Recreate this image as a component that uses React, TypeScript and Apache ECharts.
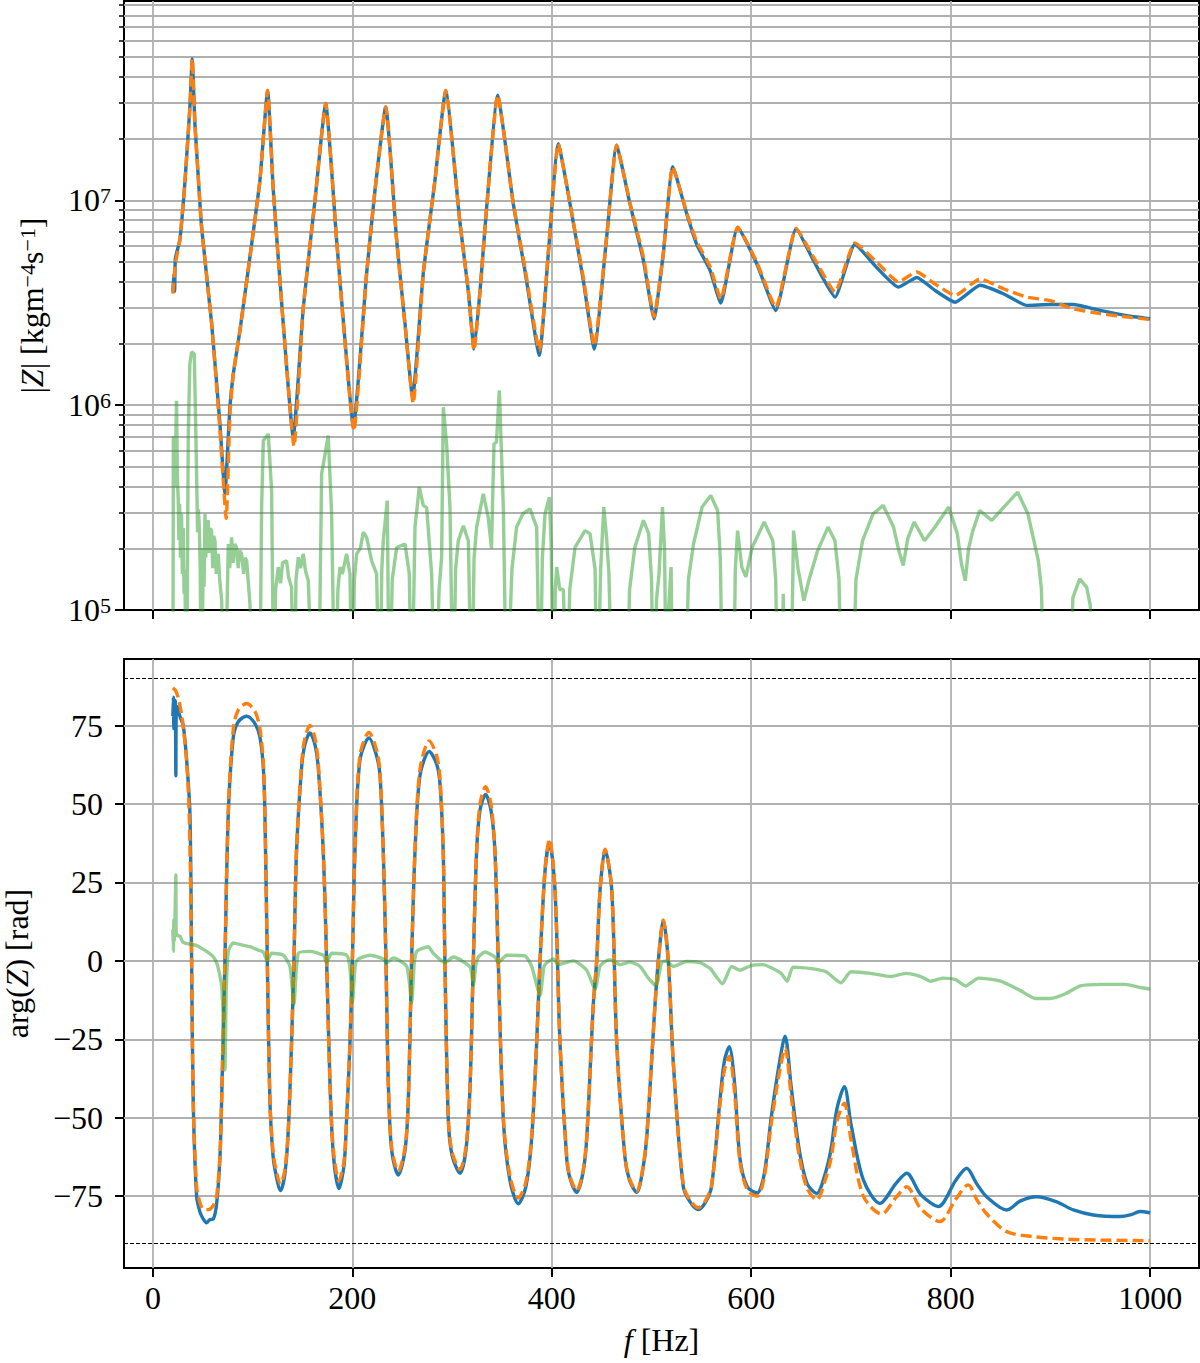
import React, { useEffect, useRef } from 'react';
import * as echarts from 'echarts';

const FONT = '"Liberation Serif", "DejaVu Serif", serif';

// ---- axes ----
const xMin = -29;
const xMax = 1049;
const xTicks = [0, 200, 400, 600, 800, 1000];
const magMin = 1e5;
const magMax = 9.4e7;
const magLabelTicks = [1e5, 1e6, 1e7];
const magGridTicks = [
  2e5, 3e5, 4e5, 5e5, 6e5, 7e5, 8e5, 9e5,
  1e6, 2e6, 3e6, 4e6, 5e6, 6e6, 7e6, 8e6, 9e6,
  1e7, 2e7, 3e7, 4e7, 5e7, 6e7, 7e7, 8e7, 9e7,
];
const phaseMin = -97.9;
const phaseMax = 96.2;
const phaseTicks = [-75, -50, -25, 0, 25, 50, 75];
const phaseRefLines = [90, -90];

// ---- |Z| measured (blue) ----
const magBlueF = [20, 21, 21.8, 22.5, 27, 32, 37.1, 39.4, 42.1, 43.8, 48.8, 58.9, 67.2, 72.2, 77.2, 80.6, 87.3, 97.3, 107.3, 115, 120.7, 130.7, 140.7, 150.8, 162.5, 173.2, 184.2, 192.6, 201, 214.3, 222.7, 233.4, 244.4, 252.8, 260.4, 271.1, 282.8, 293.6, 308, 316.3, 322, 328, 334.7, 345.7, 361.4, 373, 387.5, 396.5, 406.5, 418.3, 431.6, 442.6, 455, 465, 478.4, 491.8, 502.5, 511.8, 521.3, 535.3, 545.3, 558.7, 569.4, 586.5, 605.5, 624.6, 645, 662.3, 684, 704, 725.8, 747.6, 766, 784.4, 804.4, 829.5, 852.9, 876.3, 899.7, 923, 949.8, 975, 1000];
const magBlueV = [3.6e6, 4.4e6, 3.6e6, 5.2e6, 6.4e6, 1.21e7, 2.86e7, 4.9e7, 2.37e7, 1.75e7, 7.4e6, 2.5e6, 8.1e5, 3.7e5, 9.8e5, 1.42e6, 2.32e6, 5.3e6, 1.25e7, 3.44e7, 1.12e7, 2.5e6, 7.0e5, 3.0e6, 1.0e7, 2.97e7, 6.4e6, 2.07e6, 7.8e5, 4.4e6, 1.12e7, 2.86e7, 6.4e6, 2.5e6, 1.09e6, 4.4e6, 1.25e7, 3.44e7, 7.7e6, 3.6e6, 1.88e6, 3.6e6, 9.3e6, 3.26e7, 9.6e6, 4.55e6, 1.75e6, 5.5e6, 1.89e7, 9.6e6, 4.06e6, 1.88e6, 6.6e6, 1.86e7, 9.6e6, 5.1e6, 2.64e6, 5.5e6, 1.46e7, 8.6e6, 6.1e6, 4.55e6, 3.15e6, 7.4e6, 4.9e6, 2.9e6, 7.3e6, 5.1e6, 3.37e6, 6.1e6, 4.7e6, 3.77e6, 4.2e6, 3.63e6, 3.18e6, 3.85e6, 3.5e6, 3.07e6, 3.1e6, 3.1e6, 2.9e6, 2.74e6, 2.64e6];

// ---- |Z| model (orange dashed) ----
const magOrangeF = [20, 22.5, 27, 32, 37.1, 39.4, 42.1, 43.8, 48.8, 58.9, 67.2, 73.5, 77.2, 80.6, 87.3, 97.3, 107.3, 115, 120.7, 130.7, 141.5, 150.8, 162.5, 173.2, 184.2, 192.6, 201.5, 214.3, 222.7, 233.4, 244.4, 252.8, 261, 271.1, 282.8, 293.6, 308, 316.3, 322, 328, 334.7, 345.7, 361.4, 373, 387.5, 396.5, 406.5, 418.3, 431.6, 442.6, 455, 465, 478.4, 491.8, 502.5, 511.8, 521.3, 535.3, 545.3, 558.7, 569.4, 586.5, 605.5, 624.6, 645, 662.3, 684, 704, 725.8, 747.6, 766, 784.4, 804.4, 829.5, 852.9, 876.3, 899.7, 923, 949.8, 975, 1000];
const magOrangeV = [3.5e6, 4.9e6, 6.4e6, 1.21e7, 2.86e7, 4.9e7, 2.37e7, 1.75e7, 7.4e6, 2.5e6, 7.5e5, 2.8e5, 9.0e5, 1.42e6, 2.32e6, 5.3e6, 1.25e7, 3.44e7, 1.12e7, 2.5e6, 6.3e5, 3.0e6, 1.0e7, 2.97e7, 6.4e6, 2.0e6, 7.5e5, 4.4e6, 1.12e7, 2.86e7, 6.4e6, 2.45e6, 1.02e6, 4.4e6, 1.25e7, 3.44e7, 7.7e6, 3.6e6, 1.85e6, 3.6e6, 9.3e6, 3.26e7, 9.6e6, 4.7e6, 1.85e6, 5.6e6, 1.89e7, 9.6e6, 4.2e6, 1.95e6, 6.6e6, 1.86e7, 9.7e6, 5.3e6, 2.7e6, 5.5e6, 1.46e7, 8.7e6, 6.3e6, 4.75e6, 3.3e6, 7.4e6, 5.0e6, 3.0e6, 7.3e6, 5.3e6, 3.57e6, 6.2e6, 5.0e6, 4.0e6, 4.47e6, 3.9e6, 3.43e6, 4.14e6, 3.7e6, 3.37e6, 3.24e6, 2.95e6, 2.8e6, 2.7e6, 2.62e6];

// ---- |Z| difference (green) ----
const magDiffF = [20, 20.5, 22, 23.7, 24.5, 25.4, 26, 26.8, 27.6, 28.7, 29.5, 30.4, 31.2, 32, 33.8, 35.4, 37, 38.8, 41.5, 43.8, 44.8, 45.6, 46.5, 47.4, 48.8, 50.5, 51.3, 52.2, 53, 54, 55.5, 56.5, 57.5, 58.8, 60, 61, 62.2, 63.5, 65.5, 67, 68.9, 72.2, 75.6, 77, 78.9, 80.5, 82, 83.9, 85.5, 87, 88.9, 91, 92.5, 94, 97.3, 100.6, 107, 109, 110.7, 115.7, 119, 121.4, 123, 125.7, 128, 130, 134, 136, 139, 141.4, 143.5, 145.8, 148, 150.8, 153, 155.8, 160.8, 166, 169.2, 175.8, 179.2, 182.5, 185.5, 187.6, 190, 194.2, 197.6, 200, 202, 204.3, 208, 211, 214.3, 219.3, 224.3, 227.6, 229.5, 231, 235, 237, 240, 244.4, 252.8, 257.1, 259.5, 262.8, 267.1, 271.1, 274.5, 279.5, 282.9, 287, 289.5, 291.2, 294.5, 297.9, 301.2, 303.5, 306.2, 311.3, 316.3, 319.7, 322, 324.6, 331.3, 336.3, 339.5, 342, 344.5, 347.4, 350, 351.4, 354.7, 360, 364.7, 371, 378.1, 384.8, 388.2, 390.5, 393.2, 397.6, 399.5, 401.6, 403.5, 404.9, 408, 411.6, 415, 418, 423.3, 433.3, 438.3, 443.4, 445.5, 449, 452.1, 455, 457.3, 460.8, 475, 478, 483.2, 491.9, 497.1, 500, 502.3, 505, 507.5, 511, 513, 515.1, 517, 519.6, 521.5, 533.4, 537, 542.1, 550.7, 559.4, 566.3, 569, 571.5, 582, 584, 586.3, 590.5, 594.6, 600.9, 613, 621.6, 624.5, 626.9, 630.5, 632.1, 633.5, 639.5, 642.4, 647, 652.8, 658, 666.6, 677, 683.9, 688, 690.8, 701.2, 705, 711.6, 722, 732.3, 742.7, 748, 752.4, 757, 763.4, 773.8, 784.2, 798, 806.6, 811, 814.6, 818, 822.2, 829.1, 841.2, 853.3, 867.2, 877.5, 887.9, 891, 894.1, 919, 922.5, 929.4, 936.4, 940, 942.6, 1000];
const magDiffV = [3e4, 7.08e5, 3.98e5, 1.05e6, 4.5e5, 3.42e5, 2.2e5, 3.3e5, 1.8e5, 2.95e5, 1.5e5, 2.51e5, 1.2e5, 1.58e5, 3e4, 6.98e5, 1.58e6, 1.82e6, 1.78e6, 4.62e5, 2.4e5, 3.1e5, 2.54e5, 1.6e5, 3e4, 2.0e5, 1.3e5, 2.95e5, 1.8e5, 2.6e5, 2.74e5, 1.9e5, 2.5e5, 2.44e5, 1.6e5, 2.3e5, 2.18e5, 1.5e5, 1.88e5, 1.4e5, 1.12e5, 3e4, 2.1e5, 1.6e5, 2.26e5, 1.7e5, 2.1e5, 2.02e5, 1.6e5, 1.95e5, 1.88e5, 1.5e5, 1.8e5, 1.74e5, 1.07e5, 3e4, 3e4, 3.16e5, 6.71e5, 7.24e5, 3.83e5, 3e4, 1.26e5, 1.62e5, 1.35e5, 1.7e5, 1.74e5, 1.45e5, 1.29e5, 3e4, 1.41e5, 1.81e5, 1.6e5, 1.88e5, 1.55e5, 1.39e5, 3e4, 3e4, 4.62e5, 7.11e5, 2.95e5, 3e4, 1.26e5, 1.62e5, 1.5e5, 1.88e5, 1.5e5, 3e4, 1.41e5, 1.88e5, 2.0e5, 2.4e5, 2.26e5, 1.74e5, 1.5e5, 3e4, 1.58e5, 2.18e5, 3.42e5, 3e4, 1.41e5, 2.02e5, 2.1e5, 1.5e5, 3e4, 2.54e5, 3.98e5, 3.24e5, 3.16e5, 1.5e5, 3e4, 1.26e5, 1.81e5, 9.77e5, 6.46e5, 3.16e5, 3e4, 1.58e5, 2.18e5, 2.58e5, 2.18e5, 3e4, 1.78e5, 2.54e5, 3.69e5, 2.82e5, 2.0e5, 6.46e5, 6.61e5, 1.18e6, 5.0e5, 3.16e5, 3e4, 1.58e5, 2.54e5, 2.95e5, 3.12e5, 2.54e5, 3e4, 1.78e5, 2.95e5, 3.55e5, 2.0e5, 3e4, 1.26e5, 1.62e5, 1.26e5, 1.26e5, 3e4, 1.26e5, 2.02e5, 2.44e5, 2.36e5, 1.58e5, 3e4, 1.58e5, 3.18e5, 2.24e5, 1.5e5, 3e4, 3e4, 1.26e5, 2.02e5, 2.74e5, 2.36e5, 1.41e5, 3e4, 1.12e5, 1.5e5, 3.18e5, 2.0e5, 3e4, 1.0e5, 1.62e5, 3e4, 3e4, 1.41e5, 2.1e5, 3.18e5, 3.62e5, 3.06e5, 1.78e5, 3e4, 3e4, 1.58e5, 2.44e5, 1.62e5, 1.45e5, 2.02e5, 2.69e5, 2.18e5, 1.41e5, 3e4, 3e4, 1.2e5, 3e4, 3e4, 2.44e5, 1.58e5, 1.11e5, 1.41e5, 1.95e5, 2.54e5, 2.18e5, 1.41e5, 3e4, 3e4, 1.41e5, 2.18e5, 2.94e5, 3.24e5, 2.54e5, 1.95e5, 1.65e5, 2.24e5, 2.69e5, 2.18e5, 2.54e5, 3.18e5, 2.36e5, 1.66e5, 1.39e5, 2.0e5, 2.44e5, 3.06e5, 2.74e5, 3.18e5, 3.76e5, 2.94e5, 1.74e5, 1.26e5, 3e4, 3e4, 1.15e5, 1.42e5, 1.29e5, 1.05e5, 3e4, 3e4];

// ---- arg(Z) measured (blue) ----
const phaseBlueF = [20, 20.5, 21, 21.5, 22, 22.5, 23, 23.4, 25, 27, 30.4, 33.8, 37.1, 38.8, 40.4, 43.8, 47.1, 50, 53.8, 57, 60.5, 63.9, 67.2, 68.9, 72.2, 75.6, 80.6, 85.6, 94, 102.3, 107.3, 110.7, 112.3, 114.7, 117.3, 120, 122.4, 128, 132.4, 135.7, 139, 141.4, 144, 149.1, 152.4, 157.5, 162.5, 165.8, 170.8, 174.2, 177.5, 180.9, 186.5, 191.6, 194.2, 197.6, 200, 202.6, 207.6, 216.7, 224.4, 227.7, 231, 233.7, 236, 239.4, 246, 252.8, 256.1, 259.4, 262.8, 267.8, 277.1, 284.4, 287.8, 291.1, 292.8, 296.2, 300, 307.9, 314, 318, 321.3, 324.6, 328, 333.6, 339, 343, 346.3, 351.4, 358, 366.4, 374, 379.8, 384.8, 388.2, 393.2, 397.6, 403.2, 408.2, 414.9, 418, 424.9, 431, 435, 441.6, 445, 448.4, 453.4, 460.1, 465.1, 473.4, 478, 485.1, 491, 495.1, 503.5, 506.8, 511.8, 516.8, 521.8, 531.8, 539, 546.9, 554, 560.2, 568.6, 573, 577.9, 583, 588.6, 596, 605.8, 613, 620, 628, 633.9, 640, 648, 656, 665.7, 674, 680, 686, 693.4, 700, 712.4, 729.1, 745, 755.9, 770, 787.6, 805, 816, 826, 836, 856.2, 870, 886.3, 906.3, 923, 943, 969.8, 980, 989.8, 1000];
const phaseBlueV = [78, 84, 74, 82, 76, 83, 59, 80, 81, 78, 75, 64, 47, 0, -44.5, -75, -80, -82, -83.5, -82.5, -82.3, -77.4, -62.8, -44.5, 0, 47, 71.3, 76.2, 78, 75.6, 71.3, 61.6, 47, 0, -44.5, -60.4, -66.5, -73.2, -67.7, -54.3, -26.2, 0, 34.8, 61.6, 68.9, 72.6, 68.9, 61.6, 34.8, 0, -38.4, -61.6, -72.6, -65.2, -50.6, -26.2, 0, 34.8, 64, 71, 65.2, 59.1, 34.8, 0, -38.4, -60.4, -68.3, -60.4, -44.5, 0, 34.8, 59.1, 66.7, 62.8, 56.7, 34.8, 0, -50.6, -62, -67.7, -60, -40, 0, 34.8, 48, 53, 48, 34.8, 0, -50.6, -70, -77.4, -72, -56.7, -26.2, 0, 28.7, 37.8, 22.6, -26.2, -62.8, -69, -73.8, -68, -56.7, -14, 0, 22.6, 35.4, 22.6, -26.2, -62.8, -70, -73.8, -67, -56.7, -14, 0, 12.8, 0, -32.3, -71.9, -77, -79.3, -77, -71.9, -44.5, -32, -27.4, -38, -62.8, -72, -74, -68, -50, -33, -24, -40, -60, -71, -74.1, -68, -60, -47, -40.1, -52, -69.8, -77.3, -71, -67.7, -74.5, -78.3, -70, -66.1, -71, -75.2, -79.4, -76.5, -75.2, -76.8, -79.4, -81, -81.5, -81, -79.9, -80.3];

// ---- arg(Z) model (orange dashed) ----
const phaseOrangeF = [20, 23, 26, 29, 31, 33.8, 36, 37.5, 38.8, 40.4, 43.8, 47.1, 50, 55.5, 60.5, 63.9, 67.2, 68.9, 72.2, 75.6, 80.6, 85.6, 94, 102.3, 107.3, 110.7, 112.3, 114.7, 117.3, 120, 122.4, 128, 132.4, 135.7, 139, 141.4, 144, 149.1, 152.4, 157.5, 162.5, 165.8, 170.8, 174.2, 177.5, 180.9, 186.5, 191.6, 194.2, 197.6, 200, 202.6, 207.6, 216.7, 224.4, 227.7, 231, 233.7, 236, 239.4, 246, 252.8, 256.1, 259.4, 262.8, 267.8, 277.1, 284.4, 287.8, 291.1, 292.8, 296.2, 300, 307.9, 314, 318, 321.3, 324.6, 328, 333.6, 339, 343, 346.3, 351.4, 358, 366.4, 374, 379.8, 384.8, 388.2, 393.2, 397.6, 403.2, 408.2, 414.9, 418, 424.9, 431, 435, 441.6, 445, 448.4, 453.4, 460.1, 465.1, 473.4, 478, 485.1, 491, 495.1, 503.5, 506.8, 511.8, 516.8, 521.8, 531.8, 539, 546.9, 554, 560.2, 568.6, 573, 577.9, 583, 588.6, 596, 605.8, 613, 620, 628, 633.9, 640, 648, 656, 665.7, 674, 680, 686, 693.4, 700, 712.4, 730.8, 745, 755.9, 770, 789.3, 805, 817.6, 826, 836, 856.2, 883, 916.3, 949.7, 1000];
const phaseOrangeV = [87, 86, 83, 78, 73, 64, 50, 30, 0, -44.5, -72, -77, -79, -79.3, -78, -75, -62, -44.5, 0, 48, 74, 80, 82, 79.5, 74, 63, 47, 0, -44.5, -59, -65, -71.1, -66.5, -54, -26.2, 0, 35, 63, 71, 75, 71, 63, 35, 0, -38.4, -60, -70.1, -64, -50, -26.2, 0, 35, 65.5, 72.8, 67, 60, 35, 0, -38.4, -59.5, -67, -59.5, -44, 0, 35, 61, 70.1, 65.5, 58.5, 35, 0, -50, -61, -66.5, -59, -40, 0, 35, 50, 55.5, 50, 35, 0, -50, -68.5, -75.6, -70.5, -55.5, -26, 0, 29, 38.7, 23, -26, -62, -68.5, -73.2, -67.5, -56, -14, 0, 22.6, 35.6, 22.6, -26.2, -62.5, -69.5, -73.5, -66.5, -56, -14, 0, 13, 0, -32.3, -71.5, -76.5, -78.7, -76.5, -71.5, -46, -35, -30.5, -41, -64, -73, -75, -69, -52, -36, -27.8, -43, -62, -72.5, -76.2, -70, -63, -51, -45.4, -57, -75, -80.7, -75.5, -72, -79, -83.1, -76, -71.4, -76, -80.6, -86.3, -87.9, -88.7, -89, -89.2];

// ---- arg(Z) difference (green) ----
const phaseDiffF = [20, 20.5, 21, 21.5, 22, 23, 23.3, 25, 27, 30, 33.8, 43.8, 53.8, 60, 63.9, 66, 68.9, 70.5, 72.2, 73.5, 75.6, 80.6, 90, 97.3, 105, 110.7, 114.7, 119, 130.7, 137.4, 141.4, 145.8, 157.5, 170.8, 174.2, 179.2, 194.2, 197.5, 200, 203, 206, 217.7, 231, 234.4, 241, 254.5, 259.4, 262, 264.5, 276.1, 281.1, 292.8, 301.3, 318, 321.3, 324, 326.3, 333, 343, 346.3, 354.7, 373, 379.8, 388.2, 392, 394.9, 401.6, 406.6, 421.6, 435, 443.4, 448, 451.7, 458.4, 468.4, 478.4, 488.5, 496.8, 504.5, 510.1, 515.1, 521.8, 535.2, 548.6, 558.6, 571.3, 580.3, 588.6, 600, 612, 622, 630, 636, 642, 660, 675, 690, 700, 720, 740, 755, 770, 780, 792, 805, 815, 828, 850, 870, 885, 900, 915, 930, 950, 975, 990, 1000];
const phaseDiffV = [10, 3, 13, 6, 11, 27.4, 9, 8, 7.9, 6, 5.5, 4.9, 3, 1.5, -0.6, -3, -7.9, -18, -34.8, -10, 3, 5.7, 5, 4.5, 3.5, 2.8, 0, 2.4, 1.8, -1.8, -14, 2.4, 3, 1.8, -0.6, 2.4, 1.8, -2, -13.4, -1, 0.6, 1.8, 0.6, -0.6, 0.9, -1.8, -13.4, -1, 3, 4.5, 2.4, -0.6, 1.2, -2, -7.9, -1, 1.2, 2.8, 1.2, -0.6, 1.8, 1.6, -1.8, -11, -2, -0.6, 0.6, -1.2, 0, -3, -9.1, -2, -0.6, 0.4, -1.2, -0.4, -1.8, -5.5, -7.9, -0.6, 0, -1.8, -0.2, -0.6, -2.4, -7.3, -1.8, -3, -1.5, -1.2, -2.5, -4, -6.5, -2, -2.5, -3.5, -7, -3.5, -4, -5, -4, -5, -6.5, -5.5, -6, -8, -5.5, -6.5, -9.5, -12, -12, -10.5, -8, -7.5, -7.5, -8.5, -9];

const zip = (f: number[], v: number[]) => f.map((x, i) => [x, v[i]]);

const BLUE = '#1f77b4';
const ORANGE = '#ff7f0e';
const GREEN = '#2ca02c';
const LABEL_SIZE = 32;
const LW = 3.4;

const tickStyle = { color: '#000', width: 2 };
const gridStyle = { color: '#b0b0b0', width: 1.8 };

const lineBase = {
  type: 'line',
  showSymbol: false,
  symbol: 'none',
  silent: true,
  animation: false,
  clip: true,
};

function buildOption(): any {
  const nameRich = {
    r: { fontSize: LABEL_SIZE, lineHeight: LABEL_SIZE, fontFamily: FONT, color: '#000' },
    i: { fontSize: LABEL_SIZE, lineHeight: LABEL_SIZE, fontFamily: FONT, fontStyle: 'italic', color: '#000' },
    s: { fontSize: 22, lineHeight: 20, fontFamily: FONT, verticalAlign: 'top', color: '#000' },
  };
  return {
    animation: false,
    backgroundColor: '#fff',
    textStyle: { fontFamily: FONT },
    grid: [
      { left: 124, right: 1, top: 1, height: 609, show: true, borderColor: '#000', borderWidth: 2, backgroundColor: 'transparent', containLabel: false, outerBoundsMode: 'none' },
      { left: 124, right: 1, top: 659, height: 609, show: true, borderColor: '#000', borderWidth: 2, backgroundColor: 'transparent', containLabel: false, outerBoundsMode: 'none' },
    ],
    xAxis: [
      {
        gridIndex: 0, type: 'value', min: xMin, max: xMax,
        axisLine: { show: false, onZero: false },
        axisTick: { show: true, length: 9, lineStyle: tickStyle, customValues: xTicks },
        axisLabel: { show: false, customValues: xTicks },
        splitLine: { show: true, lineStyle: gridStyle },
      },
      {
        gridIndex: 1, type: 'value', min: xMin, max: xMax,
        axisLine: { show: false, onZero: false },
        axisTick: { show: true, length: 9, lineStyle: tickStyle, customValues: xTicks },
        axisLabel: {
          show: true, customValues: xTicks, formatter: (v: number) => String(v),
          fontSize: LABEL_SIZE, fontFamily: FONT, color: '#000', margin: 14,
        },
        splitLine: { show: true, lineStyle: gridStyle },
        name: '{i|f}{r| [Hz]}',
        nameLocation: 'middle',
        nameGap: 56,
        nameTextStyle: { rich: nameRich },
      },
    ],
    yAxis: [
      {
        gridIndex: 0, type: 'log', position: 'left', min: magMin, max: magMax,
        axisLine: { show: false, onZero: false },
        axisTick: { show: true, length: 5, lineStyle: { color: '#000', width: 1.5 }, customValues: magGridTicks },
        axisLabel: { show: false, customValues: magGridTicks },
        splitLine: { show: true, lineStyle: gridStyle },
      },
      {
        gridIndex: 0, type: 'log', position: 'left', min: magMin, max: magMax,
        axisLine: { show: false, onZero: false },
        axisTick: { show: true, length: 9, lineStyle: tickStyle, customValues: magLabelTicks },
        axisLabel: {
          show: true, customValues: magLabelTicks, margin: 13,
          formatter: (v: number) => `{b|10}{e|${Math.round(Math.log10(v))}}`,
          rich: {
            b: { fontSize: LABEL_SIZE, lineHeight: LABEL_SIZE, fontFamily: FONT, color: '#000' },
            e: { fontSize: 22, lineHeight: 20, fontFamily: FONT, color: '#000', verticalAlign: 'top' },
          },
        },
        splitLine: { show: false },
        name: '{r||}{i|Z}{r|| [kgm}{s|\u22124}{r|s}{s|\u22121}{r|]}',
        nameLocation: 'middle',
        nameRotate: 90,
        nameGap: 76,
        nameTextStyle: { rich: nameRich },
      },
      {
        gridIndex: 1, type: 'value', position: 'left', min: phaseMin, max: phaseMax,
        axisLine: { show: false, onZero: false },
        axisTick: { show: true, length: 9, lineStyle: tickStyle, customValues: phaseTicks },
        axisLabel: {
          show: true, customValues: phaseTicks, margin: 21,
          formatter: (v: number) => (v < 0 ? '\u2212' + String(-v) : String(v)),
          fontSize: LABEL_SIZE, fontFamily: FONT, color: '#000',
        },
        splitLine: { show: true, lineStyle: gridStyle },
        name: '{r|arg(}{i|Z}{r|) [rad]}',
        nameLocation: 'middle',
        nameRotate: 90,
        nameGap: 91,
        nameTextStyle: { rich: nameRich },
      },
    ],
    series: [
      {
        ...lineBase, name: 'meas |Z|', xAxisIndex: 0, yAxisIndex: 0,
        data: zip(magBlueF, magBlueV), smooth: 0.15,
        lineStyle: { color: BLUE, width: LW },
      },
      {
        ...lineBase, name: 'model |Z|', xAxisIndex: 0, yAxisIndex: 0,
        data: zip(magOrangeF, magOrangeV), smooth: 0.15,
        lineStyle: { color: ORANGE, width: LW, type: [11, 5] },
      },
      {
        ...lineBase, name: 'diff |Z|', xAxisIndex: 0, yAxisIndex: 0,
        data: zip(magDiffF, magDiffV),
        lineStyle: { color: GREEN, width: LW, opacity: 0.5 },
      },
      {
        ...lineBase, name: 'meas arg', xAxisIndex: 1, yAxisIndex: 2,
        data: zip(phaseBlueF, phaseBlueV), smooth: 0.3,
        lineStyle: { color: BLUE, width: LW },
        markLine: {
          silent: true, animation: false, symbol: ['none', 'none'],
          label: { show: false },
          emphasis: { disabled: true },
          lineStyle: { color: '#000', width: 1.2, type: [4, 2] },
          data: phaseRefLines.map((v) => ({ yAxis: v })),
        },
      },
      {
        ...lineBase, name: 'model arg', xAxisIndex: 1, yAxisIndex: 2,
        data: zip(phaseOrangeF, phaseOrangeV), smooth: 0.3,
        lineStyle: { color: ORANGE, width: LW, type: [11, 5] },
      },
      {
        ...lineBase, name: 'diff arg', xAxisIndex: 1, yAxisIndex: 2,
        data: zip(phaseDiffF, phaseDiffV), smooth: 0.2,
        lineStyle: { color: GREEN, width: LW, opacity: 0.5 },
      },
    ],
  };
}

export default function App() {
  const ref = useRef<HTMLDivElement>(null);
  useEffect(() => {
    document.body.style.margin = '0';
    if (!ref.current) return;
    const chart = echarts.init(ref.current, undefined, { renderer: 'svg' });
    chart.setOption(buildOption());
    return () => {
      chart.dispose();
    };
  }, []);
  return <div ref={ref} style={{ width: 1200, height: 1363 }} />;
}
